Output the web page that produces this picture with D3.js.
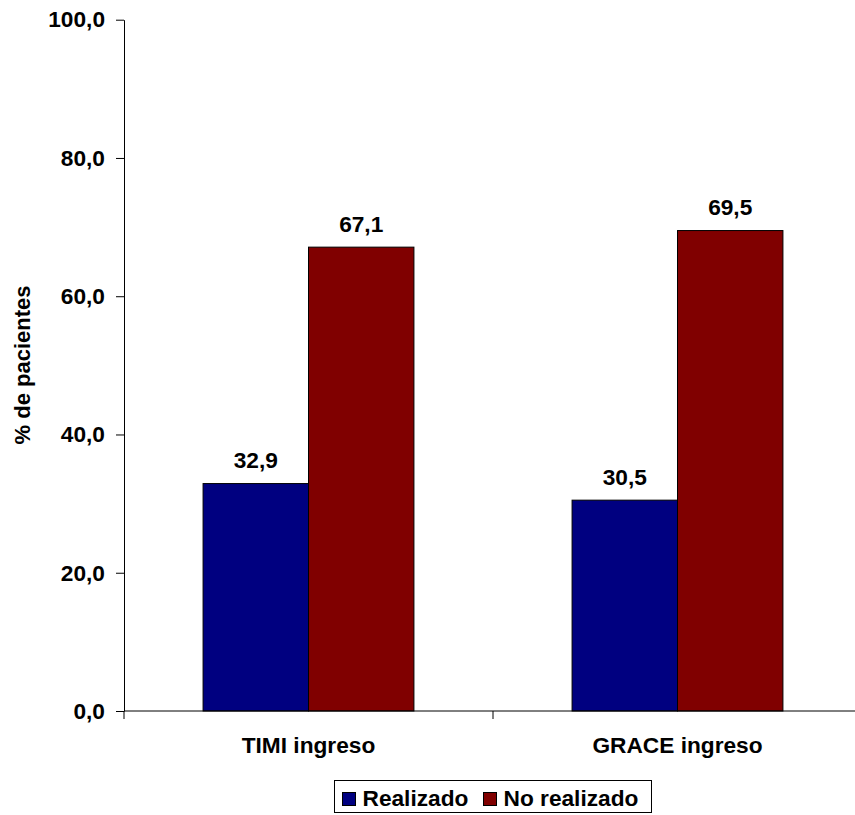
<!DOCTYPE html>
<html>
<head>
<meta charset="utf-8">
<script src="https://cdn.jsdelivr.net/npm/d3@7"></script>
<style>
  html, body { margin: 0; padding: 0; background: #fff; }
  svg { display: block; }
  text { font-family: "Liberation Sans", Arial, sans-serif; font-weight: bold; fill: #000; }
</style>
</head>
<body>
<svg id="chart" width="855" height="815"></svg>
<script>
// Data
const categories = ["TIMI ingreso", "GRACE ingreso"];
const seriesNames = ["Realizado", "No realizado"];
const realizado = [32.9, 30.5];
const noRealizado = [67.1, 69.5];
const yTicks = [0, 20, 40, 60, 80, 100];
const colors = ["#000080", "#800000"];

const rows = categories.map((c, i) => ({ cat: c, values: [realizado[i], noRealizado[i]] }));

const svg = d3.select("#chart");
const fontSize = 22.7;
const fmt = v => d3.format(".1f")(v).replace(".", ",");

// Scales
const x0 = d3.scaleBand().domain(categories).range([124, 862]).padding(0);
const x1 = d3.scaleBand().domain(seriesNames).range([0, x0.bandwidth()])
  .paddingInner(0).paddingOuter(0.75);
const y = d3.scaleLinear().domain([0, 100]).range([711, 19.7]);

// Y axis
const yAxis = svg.append("g")
  .attr("transform", "translate(124,0)")
  .call(d3.axisLeft(y).tickValues(yTicks).tickFormat(fmt).tickSize(8).tickSizeOuter(0).tickPadding(11));
yAxis.select(".domain").attr("stroke", "#000");
yAxis.selectAll(".tick line").attr("stroke", "#000");
yAxis.selectAll(".tick text")
  .style("font-size", fontSize + "px")
  .style("font-family", "'Liberation Sans', Arial, sans-serif")
  .style("font-weight", "bold")
  .attr("fill", "#000");

// Bars
const groups = svg.append("g").selectAll("g")
  .data(rows).join("g")
  .attr("transform", d => `translate(${x0(d.cat)},0)`);

groups.selectAll("rect")
  .data(d => d.values.map((v, i) => ({ name: seriesNames[i], v, i })))
  .join("rect")
  .attr("x", d => x1(d.name))
  .attr("y", d => y(d.v))
  .attr("width", x1.bandwidth())
  .attr("height", d => y(0) - y(d.v))
  .attr("fill", d => colors[d.i])
  .attr("stroke", "#000")
  .attr("stroke-width", 1);

groups.selectAll("text.val")
  .data(d => d.values.map((v, i) => ({ name: seriesNames[i], v, i })))
  .join("text")
  .attr("class", "val")
  .attr("x", d => x1(d.name) + x1.bandwidth() / 2)
  .attr("y", d => y(d.v) - 15.5)
  .attr("text-anchor", "middle")
  .style("font-size", fontSize + "px")
  .text(d => fmt(d.v));

// X axis: baseline, category boundary ticks, category labels
const xAxis = svg.append("g").attr("transform", `translate(0,${y(0)})`);
xAxis.append("line")
  .attr("x1", 124).attr("x2", 862)
  .attr("y1", 0).attr("y2", 0)
  .attr("stroke", "#000");
const bounds = categories.map(c => x0(c)).concat([x0(categories[categories.length - 1]) + x0.bandwidth()]);
xAxis.selectAll("line.tick")
  .data(bounds).join("line")
  .attr("class", "tick")
  .attr("x1", d => d).attr("x2", d => d)
  .attr("y1", 0).attr("y2", 8)
  .attr("stroke", "#000");
xAxis.selectAll("text")
  .data(categories).join("text")
  .attr("x", d => x0(d) + x0.bandwidth() / 2)
  .attr("y", 41.5)
  .attr("text-anchor", "middle")
  .style("font-size", fontSize + "px")
  .text(d => d);

// Y axis title
svg.append("text")
  .attr("transform", "translate(30,365) rotate(-90)")
  .attr("text-anchor", "middle")
  .style("font-size", "22px")
  .text("% de pacientes");

// Legend
const legend = svg.append("g");
legend.append("rect")
  .attr("x", 334.5).attr("y", 780.5)
  .attr("width", 317).attr("height", 32)
  .attr("fill", "#fff").attr("stroke", "#000");
const legendX = [342, 483];
seriesNames.forEach((name, i) => {
  legend.append("rect")
    .attr("x", legendX[i] + 0.5).attr("y", 792.5)
    .attr("width", 13).attr("height", 13)
    .attr("fill", colors[i]).attr("stroke", "#000");
  legend.append("text")
    .attr("x", legendX[i] + 20.5)
    .attr("y", 806)
    .style("font-size", fontSize + "px")
    .text(name);
});
</script>
</body>
</html>
